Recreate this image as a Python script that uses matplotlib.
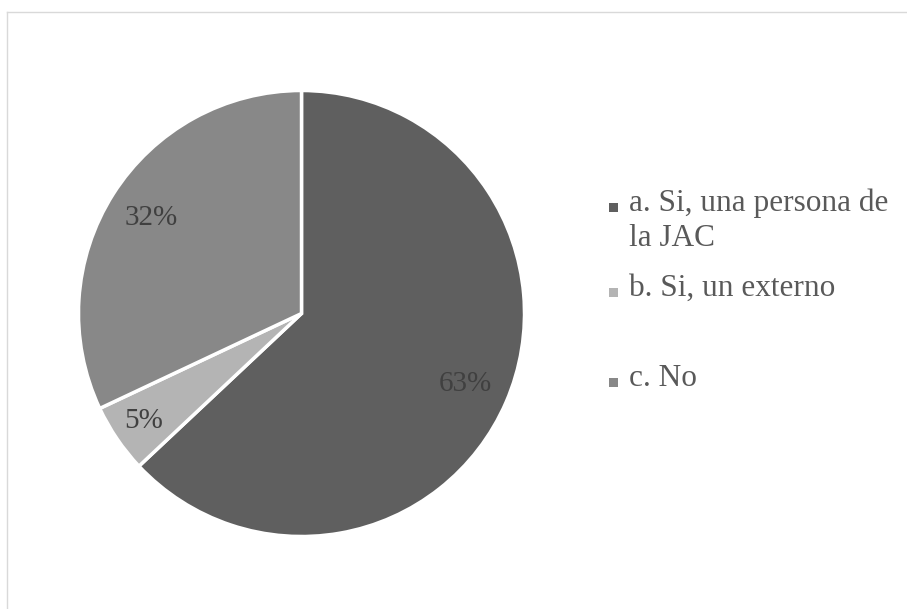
import matplotlib
matplotlib.use('Agg')
import matplotlib.pyplot as plt
from matplotlib.patches import Rectangle
from matplotlib.lines import Line2D
import numpy as np

plt.rcParams['font.family'] = ['Liberation Serif', 'DejaVu Serif']

W, H = 907, 609

labels = ["a. Si, una persona de\nla JAC", "b. Si, un externo", "c. No"]
values = [63, 5, 32]
colors = ["#5f5f5f", "#b4b4b4", "#888888"]
label_dist = [0.80, 0.855, 0.80]

fig = plt.figure(figsize=(W / 100, H / 100), dpi=100)
fig.patch.set_facecolor("white")

# chart area border (clipped at right/bottom like the source)
fig.add_artist(Line2D([6.5 / W, 6.5 / W], [0, 1 - 11.5 / H], transform=fig.transFigure, color="#d9d9d9", lw=1.0))
fig.add_artist(Line2D([6.5 / W, 1], [1 - 11.5 / H, 1 - 11.5 / H], transform=fig.transFigure, color="#d9d9d9", lw=1.0))

cx, cy, r = 301.5, 313.5, 223
ax = fig.add_axes([(cx - r) / W, 1 - (cy + r) / H, 2 * r / W, 2 * r / H])
wedges, _ = ax.pie(values, colors=colors, startangle=90, counterclock=False,
                   wedgeprops=dict(edgecolor="white", linewidth=2.5), radius=1)
ax.set_xlim(-1, 1); ax.set_ylim(-1, 1)
ax.set_aspect("equal")
ax.axis("off")

total = sum(values)
for w, v, d in zip(wedges, values, label_dist):
    ang = np.deg2rad((w.theta1 + w.theta2) / 2)
    ax.text(d * np.cos(ang), d * np.sin(ang), f"{round(100 * v / total)}%",
            ha="center", va="center", fontsize=21, color="#404040")

# legend (baseline of first line of each entry, in px from top)
leg_base = [217, 302, 392]
for lab, col, yb in zip(labels, colors, leg_base):
    fig.add_artist(Rectangle((609 / W, 1 - (yb - 5) / H), 9 / W, 9 / H,
                             transform=fig.transFigure, facecolor=col, edgecolor="none"))
    fig.text(629 / W, 1 - (yb - 28) / H, lab, ha="left", va="top", fontsize=22.5,
             color="#595959", linespacing=1.25)

fig.savefig("out.png", dpi=100, facecolor="white")
